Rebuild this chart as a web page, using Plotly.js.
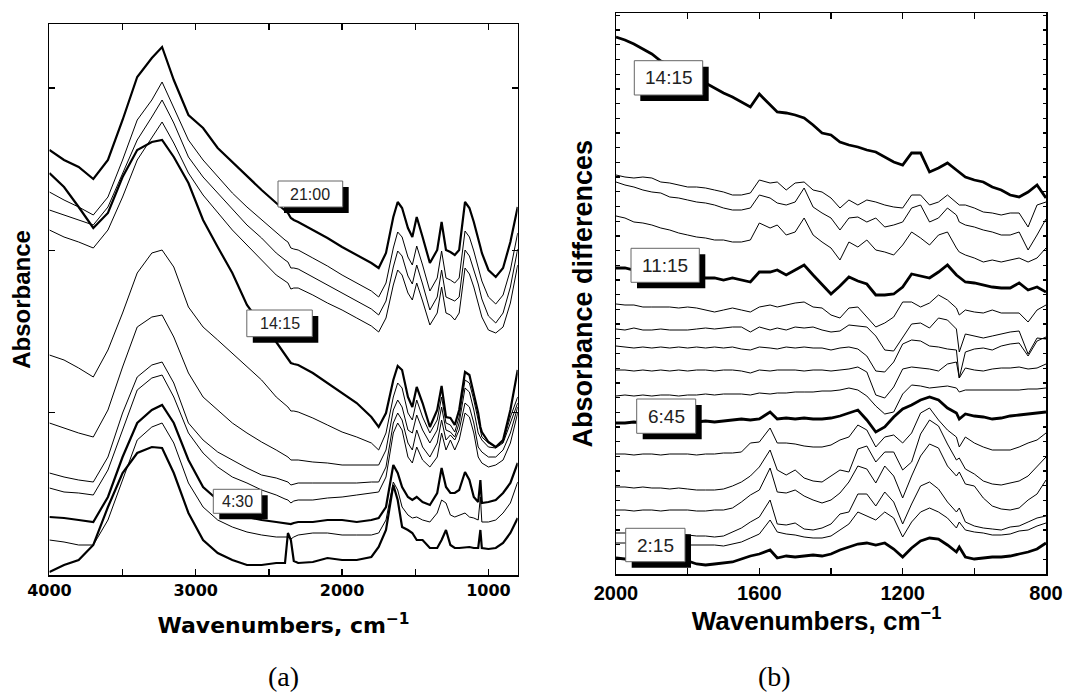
<!DOCTYPE html>
<html><head><meta charset="utf-8">
<script src="https://cdn.plot.ly/plotly-3.0.1.min.js"></script>
<style>html,body{margin:0;padding:0;background:#fff;}#chart{width:1065px;height:696px;}</style>
</head><body><div id="chart"></div>
<script>
// ---------- Panel (a): absorbance spectra ----------
const wnA = [4000,3900,3800,3700,3600,3500,3400,3300,3230,3150,
 3050,2950,2850,2750,2650,2550,2450,2390,2370,2350,2330,2300,
 2200,2100,2000,1900,1800,1750,1700,1650,1620,1590,
 1550,1520,1490,1450,1400,1350,1320,1290,1260,1230,
 1200,1160,1130,1100,1070,1055,1045,1000,950,900,
 850,800];
const absA_2100 = [4.25,4.15,4.08,3.96,4.15,4.55,4.98,5.17,5.28,4.95,
 4.60,4.47,4.27,4.13,3.98,3.85,3.72,3.64,3.62,3.57,3.55,3.53,
 3.45,3.37,3.28,3.20,3.12,3.07,3.22,3.58,3.73,3.67,
 3.47,3.38,3.58,3.38,3.12,3.25,3.53,3.25,3.23,3.20,
 3.25,3.73,3.67,3.53,3.38,3.28,3.22,3.05,2.98,3.07,
 3.33,3.68];
const absA_s2 = [3.83,3.75,3.68,3.60,3.78,4.15,4.55,4.75,4.93,4.68,
 4.35,4.15,3.98,3.82,3.68,3.55,3.42,3.35,3.33,3.27,3.26,3.25,
 3.17,3.09,3.00,2.92,2.84,2.78,2.92,3.27,3.43,3.38,
 3.18,3.10,3.29,3.10,2.84,2.97,3.24,2.97,2.95,2.92,
 2.97,3.44,3.38,3.24,3.09,3.00,2.94,2.78,2.71,2.80,
 3.05,3.42];
const absA_s3 = [3.65,3.60,3.55,3.50,3.68,4.02,4.35,4.58,4.75,4.52,
 4.18,3.98,3.82,3.65,3.50,3.37,3.22,3.15,3.13,3.07,3.07,3.06,
 2.98,2.90,2.82,2.74,2.66,2.60,2.74,3.08,3.24,3.19,
 2.99,2.91,3.10,2.91,2.65,2.78,3.05,2.78,2.76,2.74,
 2.78,3.25,3.19,3.06,2.91,2.82,2.76,2.59,2.52,2.62,
 2.88,3.26];
const absA_s4 = [3.45,3.38,3.33,3.27,3.45,3.78,4.15,4.38,4.53,4.32,
 4.02,3.80,3.62,3.45,3.30,3.15,3.00,2.94,2.92,2.86,2.87,2.87,
 2.80,2.72,2.65,2.57,2.49,2.43,2.57,2.90,3.05,3.00,
 2.82,2.75,2.92,2.74,2.50,2.62,2.88,2.62,2.60,2.55,
 2.62,3.07,3.01,2.88,2.73,2.64,2.58,2.45,2.42,2.48,
 2.72,3.10];
const absA_1415 = [4.02,3.88,3.68,3.47,3.62,3.98,4.25,4.33,4.35,4.18,
 3.92,3.55,3.28,3.02,2.70,2.50,2.33,2.20,2.17,2.12,2.11,2.10,
 2.02,1.92,1.82,1.72,1.58,1.48,1.62,1.95,2.09,2.05,
 1.78,1.68,1.88,1.72,1.48,1.65,1.89,1.58,1.57,1.50,
 1.65,2.03,2.00,1.82,1.62,1.48,1.43,1.33,1.28,1.35,
 1.65,2.05];
const absA_s6 = [2.20,2.15,2.07,1.98,2.25,2.62,3.02,3.22,3.25,3.08,
 2.68,2.48,2.35,2.22,2.08,1.95,1.78,1.70,1.68,1.64,1.64,1.63,
 1.57,1.50,1.43,1.38,1.32,1.25,1.42,1.78,1.92,1.87,
 1.62,1.55,1.75,1.58,1.42,1.55,1.78,1.52,1.50,1.43,
 1.58,1.95,1.92,1.75,1.55,1.42,1.38,1.32,1.28,1.33,
 1.58,1.78];
const absA_s7 = [1.52,1.47,1.42,1.38,1.65,2.08,2.48,2.58,2.60,2.38,
 2.02,1.78,1.65,1.52,1.42,1.33,1.25,1.20,1.18,1.15,1.15,1.15,
 1.13,1.12,1.10,1.10,1.10,1.10,1.25,1.65,1.75,1.68,
 1.45,1.42,1.60,1.45,1.32,1.45,1.68,1.45,1.43,1.38,
 1.52,1.87,1.83,1.65,1.42,1.38,1.35,1.28,1.27,1.32,
 1.52,1.72];
const absA_s8 = [1.02,0.98,0.95,0.93,1.18,1.62,1.98,2.10,2.13,1.92,
 1.52,1.35,1.23,1.15,1.07,1.00,0.97,0.94,0.93,0.90,0.91,0.92,
 0.92,0.92,0.92,0.92,0.93,0.93,1.08,1.52,1.62,1.55,
 1.32,1.25,1.45,1.28,1.18,1.32,1.55,1.35,1.40,1.35,
 1.45,1.72,1.68,1.52,1.28,1.25,1.23,1.18,1.18,1.25,
 1.42,1.68];
const absA_s9 = [0.87,0.83,0.82,0.80,1.05,1.45,1.85,1.97,2.00,1.78,
 1.42,1.22,1.08,0.98,0.92,0.85,0.80,0.76,0.75,0.72,0.74,0.75,
 0.75,0.77,0.78,0.80,0.82,0.83,0.98,1.42,1.52,1.45,
 1.18,1.12,1.28,1.15,1.08,1.18,1.42,1.25,1.35,1.25,
 1.35,1.62,1.58,1.42,1.18,1.15,1.12,1.08,1.10,1.15,
 1.32,1.62];
const absA_0430 = [0.58,0.57,0.55,0.53,0.78,1.18,1.52,1.65,1.70,1.52,
 1.15,0.88,0.75,0.65,0.58,0.55,0.53,0.52,0.52,0.51,0.52,0.53,
 0.53,0.55,0.55,0.53,0.55,0.57,0.68,1.10,1.02,0.88,
 0.78,0.75,0.78,0.73,0.70,0.82,1.07,0.88,0.82,0.82,
 0.85,1.03,0.95,0.78,0.73,0.95,0.72,0.73,0.75,0.82,
 0.92,1.12];
const absA_s11 = [0.35,0.33,0.30,0.30,0.55,0.95,1.35,1.48,1.52,1.32,
 0.92,0.68,0.55,0.48,0.43,0.40,0.38,0.38,0.38,0.36,0.38,0.40,
 0.42,0.42,0.40,0.40,0.40,0.42,0.55,0.93,0.85,0.68,
 0.60,0.57,0.58,0.55,0.53,0.62,0.75,0.72,0.60,0.58,
 0.60,0.62,0.58,0.57,0.55,0.78,0.53,0.53,0.55,0.62,
 0.72,0.93];
const absA_s12 = [0.03,0.10,0.15,0.30,0.68,1.02,1.22,1.28,1.27,1.02,
 0.62,0.35,0.22,0.15,0.10,0.10,0.12,0.12,0.42,0.35,0.14,0.12,
 0.13,0.17,0.15,0.15,0.18,0.28,0.45,0.90,0.75,0.48,
 0.45,0.42,0.35,0.35,0.27,0.27,0.35,0.45,0.30,0.27,
 0.27,0.28,0.28,0.27,0.27,0.45,0.27,0.26,0.27,0.32,
 0.42,0.57];

// ---------- Panel (b): absorbance differences ----------
const wnB = [2000,1975,1950,1925,1900,1875,1850,1825,1800,1775,
 1750,1725,1700,1675,1650,1625,1600,1570,1550,1525,
 1500,1475,1450,1425,1400,1375,1350,1325,1300,1275,
 1250,1225,1200,1175,1150,1125,1100,1075,1050,1042,
 1025,1000,975,950,925,900,875,850,825,800];
const difB_1415 = [5.37,5.34,5.30,5.25,5.20,5.13,5.09,5.04,4.99,4.94,
 4.91,4.86,4.81,4.77,4.72,4.67,4.80,4.69,4.62,4.61,
 4.59,4.56,4.49,4.41,4.39,4.32,4.29,4.27,4.24,4.22,
 4.17,4.12,4.09,4.21,4.21,4.02,4.06,4.11,4.04,4.02,
 3.97,3.94,3.92,3.87,3.84,3.79,3.77,3.82,3.89,3.76];
const difB_s2 = [3.99,3.97,3.96,3.97,3.96,3.92,3.91,3.89,3.87,3.87,
 3.86,3.84,3.82,3.79,3.79,3.81,3.94,3.91,3.92,3.84,
 3.91,3.92,3.84,3.82,3.76,3.66,3.74,3.69,3.74,3.72,
 3.69,3.67,3.66,3.79,3.79,3.69,3.72,3.79,3.72,3.69,
 3.69,3.66,3.62,3.61,3.59,3.61,3.61,3.47,3.69,3.72];
const difB_s3 = [3.92,3.89,3.87,3.84,3.82,3.81,3.77,3.76,3.74,3.72,
 3.71,3.69,3.66,3.64,3.64,3.66,3.79,3.76,3.71,3.69,
 3.72,3.86,3.67,3.61,3.56,3.44,3.56,3.57,3.52,3.56,
 3.47,3.49,3.52,3.66,3.69,3.52,3.56,3.66,3.59,3.52,
 3.49,3.47,3.44,3.42,3.39,3.39,3.42,3.24,3.39,3.55];
const difB_s4 = [3.58,3.56,3.52,3.51,3.49,3.46,3.44,3.41,3.39,3.37,
 3.36,3.34,3.34,3.32,3.32,3.34,3.51,3.46,3.49,3.39,
 3.42,3.56,3.39,3.32,3.26,3.14,3.32,3.27,3.34,3.24,
 3.22,3.19,3.29,3.42,3.36,3.29,3.39,3.42,3.26,3.22,
 3.19,3.16,3.12,3.14,3.12,3.14,3.16,3.12,3.16,3.26];
const difB_1115 = [3.06,3.06,3.04,3.03,3.02,3.01,3.00,2.99,2.98,2.97,
 2.96,2.96,2.94,2.96,2.94,2.92,3.02,3.02,3.04,2.99,
 3.04,3.09,2.99,2.90,2.80,2.88,2.97,2.93,2.90,2.79,
 2.79,2.80,2.87,3.00,2.98,2.96,3.02,3.09,2.99,2.97,
 2.92,2.91,2.89,2.87,2.86,2.86,2.91,2.84,2.87,2.82];
const difB_s6 = [2.70,2.69,2.69,2.67,2.67,2.67,2.67,2.66,2.67,2.66,
 2.64,2.62,2.64,2.66,2.64,2.62,2.67,2.69,2.67,2.69,
 2.71,2.72,2.67,2.66,2.59,2.56,2.66,2.67,2.57,2.47,
 2.51,2.57,2.72,2.72,2.67,2.71,2.79,2.74,2.66,2.59,
 2.64,2.62,2.61,2.64,2.61,2.61,2.61,2.52,2.64,2.69];
const difB_s7 = [2.45,2.44,2.46,2.44,2.44,2.45,2.44,2.44,2.44,2.45,
 2.46,2.45,2.46,2.47,2.47,2.42,2.47,2.44,2.46,2.44,
 2.47,2.46,2.47,2.44,2.42,2.43,2.49,2.48,2.47,2.38,
 2.24,2.23,2.36,2.50,2.51,2.46,2.56,2.54,2.45,2.22,
 2.40,2.38,2.36,2.38,2.40,2.42,2.43,2.20,2.36,2.35];
const difB_s8 = [2.28,2.27,2.26,2.27,2.26,2.27,2.26,2.27,2.26,2.27,
 2.26,2.27,2.26,2.27,2.25,2.24,2.27,2.26,2.25,2.27,
 2.26,2.27,2.26,2.26,2.24,2.26,2.27,2.25,2.18,2.03,
 2.02,2.12,2.30,2.34,2.33,2.28,2.27,2.25,2.24,1.96,
 2.22,2.25,2.26,2.24,2.28,2.30,2.31,2.18,2.33,2.37];
const difB_s9 = [2.04,2.04,2.03,2.04,2.03,2.04,2.03,2.04,2.03,2.04,
 2.04,2.03,2.04,2.04,2.03,2.01,2.04,2.03,2.04,2.04,
 2.04,2.03,2.04,2.04,2.03,2.04,2.05,2.07,2.02,1.79,
 1.76,1.87,2.05,2.07,2.06,2.05,2.03,2.10,2.12,1.96,
 2.06,2.04,2.03,2.05,2.06,2.06,2.07,2.05,2.06,2.10];
const difB_s10 = [1.78,1.79,1.78,1.79,1.78,1.79,1.79,1.78,1.79,1.79,
 1.80,1.79,1.80,1.80,1.80,1.79,1.81,1.80,1.81,1.81,
 1.82,1.82,1.82,1.83,1.83,1.84,1.86,1.84,1.78,1.68,
 1.60,1.62,1.80,1.89,1.88,1.86,1.87,1.88,1.86,1.82,
 1.84,1.84,1.84,1.84,1.84,1.84,1.84,1.85,1.85,1.86];
const difB_0645 = [1.51,1.51,1.52,1.51,1.52,1.51,1.52,1.52,1.51,1.52,
 1.53,1.52,1.53,1.54,1.55,1.54,1.55,1.62,1.55,1.56,
 1.55,1.56,1.55,1.55,1.56,1.58,1.61,1.64,1.54,1.42,
 1.47,1.57,1.65,1.69,1.74,1.77,1.74,1.66,1.61,1.55,
 1.60,1.58,1.57,1.55,1.56,1.58,1.59,1.60,1.61,1.62];
const difB_s12 = [1.20,1.20,1.19,1.20,1.20,1.19,1.20,1.20,1.20,1.19,
 1.20,1.20,1.21,1.21,1.22,1.31,1.32,1.46,1.31,1.31,
 1.30,1.28,1.27,1.27,1.29,1.34,1.37,1.49,1.44,1.27,
 1.37,1.39,1.31,1.41,1.61,1.66,1.54,1.44,1.37,1.27,
 1.37,1.31,1.27,1.24,1.24,1.24,1.27,1.31,1.34,1.41];
const difB_s13 = [0.87,0.87,0.86,0.87,0.86,0.86,0.85,0.86,0.85,0.84,
 0.84,0.84,0.85,0.88,0.92,0.98,1.07,1.24,1.04,0.99,
 1.04,0.96,0.93,0.92,0.98,1.04,1.02,1.25,1.28,1.12,
 1.22,1.22,1.04,1.12,1.40,1.54,1.48,1.30,1.14,1.16,
 1.05,1.00,0.93,0.90,0.89,0.91,0.93,0.98,1.07,1.17];
const difB_s14 = [0.64,0.64,0.63,0.64,0.64,0.63,0.64,0.64,0.64,0.63,
 0.63,0.64,0.64,0.66,0.72,0.79,0.84,1.06,0.82,0.81,
 0.84,0.78,0.74,0.71,0.74,0.81,0.92,1.08,1.05,0.91,
 1.08,0.98,0.76,0.98,1.18,1.30,1.26,1.08,0.98,1.02,
 0.90,0.88,0.76,0.68,0.65,0.64,0.66,0.74,0.80,0.94];
const difB_s15 = [0.41,0.41,0.40,0.41,0.40,0.40,0.39,0.40,0.39,0.38,
 0.38,0.37,0.38,0.42,0.46,0.52,0.57,0.74,0.50,0.49,
 0.51,0.45,0.44,0.46,0.50,0.60,0.62,0.80,0.80,0.68,
 0.82,0.72,0.50,0.70,0.88,0.92,0.85,0.72,0.62,0.66,
 0.52,0.48,0.46,0.45,0.44,0.47,0.48,0.52,0.56,0.58];
const difB_s16 = [0.31,0.31,0.30,0.31,0.30,0.30,0.30,0.30,0.29,0.29,
 0.29,0.29,0.28,0.30,0.32,0.36,0.40,0.54,0.42,0.40,
 0.39,0.37,0.36,0.36,0.38,0.44,0.50,0.62,0.58,0.54,
 0.62,0.56,0.37,0.52,0.62,0.66,0.62,0.56,0.46,0.52,
 0.44,0.42,0.41,0.39,0.39,0.40,0.43,0.44,0.48,0.51];
const difB_0215 = [0.16,0.15,0.16,0.15,0.14,0.13,0.12,0.12,0.13,0.10,
 0.09,0.10,0.11,0.12,0.15,0.18,0.20,0.24,0.16,0.18,
 0.17,0.18,0.19,0.18,0.20,0.24,0.27,0.30,0.31,0.29,
 0.31,0.25,0.17,0.26,0.33,0.36,0.35,0.29,0.22,0.27,
 0.17,0.15,0.16,0.17,0.17,0.18,0.20,0.22,0.25,0.31];

const ticksA = [4000,3000,2000,1000];
const ticksB = [2000,1600,1200,800];

// ---------- build ----------
const W = 1065, H = 696;
const thickA = 2.2, thinA = 1, thickB = 2.8, thinB = 1;
const seriesA = [
  ['21:00',absA_2100,thickA],['a2',absA_s2,thinA],['a3',absA_s3,thinA],['a4',absA_s4,thinA],
  ['14:15',absA_1415,thickA],['a6',absA_s6,thinA],['a7',absA_s7,thinA],['a8',absA_s8,thinA],
  ['a9',absA_s9,thinA],['4:30',absA_0430,thickA],['a11',absA_s11,thinA],['a12',absA_s12,thickA]
];
const seriesB = [
  ['14:15',difB_1415,thickB],['b2',difB_s2,thinB],['b3',difB_s3,thinB],['b4',difB_s4,thinB],
  ['11:15',difB_1115,thickB],['b6',difB_s6,thinB],['b7',difB_s7,thinB],['b8',difB_s8,thinB],
  ['b9',difB_s9,thinB],['b10',difB_s10,thinB],['6:45',difB_0645,thickB],['b12',difB_s12,thinB],
  ['b13',difB_s13,thinB],['b14',difB_s14,thinB],['b15',difB_s15,thinB],['b16',difB_s16,thinB],
  ['2:15',difB_0215,thickB]
];
const traces = [];
seriesA.forEach(s => traces.push({type:'scatter',mode:'lines',name:s[0],x:wnA,y:s[1],xaxis:'x',yaxis:'y',
  line:{color:'#000',width:s[2]},hoverinfo:'skip'}));
seriesB.forEach(s => traces.push({type:'scatter',mode:'lines',name:s[0],x:wnB,y:s[1],xaxis:'x2',yaxis:'y2',
  line:{color:'#000',width:s[2]},hoverinfo:'skip'}));

const X = v => v / W, Y = v => 1 - v / H;
const axBase = {showline:true,linecolor:'#000',linewidth:1.5,mirror:'ticks',ticks:'inside',
  tickcolor:'#000',tickwidth:1.3,showgrid:false,zeroline:false,fixedrange:true,automargin:false};

// label boxes [text, x0, y0, x1, y1, fontSize]
const boxes = [
  ['21:00',278,181,342.7,207,16],
  ['14:15',246.8,310,312.3,336.7,16],
  ['4:30',213.3,489.3,261.7,513.3,16],
  ['14:15',634.3,60.7,702.7,95,19],
  ['11:15',631,248.3,699.3,282.3,19],
  ['6:45',636.7,399,695.7,433.3,19],
  ['2:15',625.7,528.3,685,561.7,19]
];
const shapes = [], annotations = [];
boxes.forEach(b => {
  const [t,x0,y0,x1,y1,fs] = b, off = 6;
  shapes.push({type:'rect',xref:'paper',yref:'paper',x0:X(x0+off),x1:X(x1+off),y0:Y(y0+off),y1:Y(y1+off),
    fillcolor:'#000',line:{width:0},layer:'above'});
  shapes.push({type:'rect',xref:'paper',yref:'paper',x0:X(x0),x1:X(x1),y0:Y(y0),y1:Y(y1),
    fillcolor:'#fff',line:{color:'#666',width:1},layer:'above'});
  annotations.push({text:t,xref:'paper',yref:'paper',x:X((x0+x1)/2),y:Y((y0+y1)/2),xanchor:'center',yanchor:'middle',
    showarrow:false,font:{family:'Liberation Sans, Arial, sans-serif',size:fs,color:'#222'}});
});
const boldA = {family:'DejaVu Sans, sans-serif',color:'#000',weight:'bold'};
const boldB = {family:'Liberation Sans, Arial, sans-serif',color:'#000',weight:'bold'};
annotations.push({text:'(a)',xref:'paper',yref:'paper',x:X(283),y:Y(676),xanchor:'center',yanchor:'middle',
  showarrow:false,font:{family:'Liberation Serif, Times New Roman, serif',size:28,color:'#000'}});
annotations.push({text:'(b)',xref:'paper',yref:'paper',x:X(774),y:Y(676),xanchor:'center',yanchor:'middle',
  showarrow:false,font:{family:'Liberation Serif, Times New Roman, serif',size:28,color:'#000'}});

const layout = {
  width:W,height:H,margin:{l:0,r:0,t:0,b:0},paper_bgcolor:'#fff',plot_bgcolor:'#fff',showlegend:false,
  xaxis:Object.assign({},axBase,{domain:[X(49.4),X(517.7)],anchor:'y',range:[4000,800],tickmode:'array',
    tickvals:ticksA,ticklen:6,tickfont:Object.assign({size:16},boldA),
    minor:{dtick:500,tick0:0,ticks:'inside',ticklen:6,tickwidth:1.3,tickcolor:'#000',showgrid:false},
    title:{text:'Wavenumbers, cm<sup>\u22121</sup>',font:Object.assign({size:22},boldA),standoff:19}}),
  yaxis:Object.assign({},axBase,{domain:[Y(575),Y(24)],anchor:'x',range:[0,5.51],tickmode:'array',
    tickvals:[0,1.623,3.247,4.87],showticklabels:false,ticklen:6,
    title:{text:'Absorbance',font:Object.assign({size:24},boldB),standoff:10}}),
  xaxis2:Object.assign({},axBase,{domain:[X(616),X(1046)],anchor:'y2',range:[2000,800],tickmode:'array',
    tickvals:ticksB,ticklen:6,tickfont:Object.assign({size:20},boldB),
    minor:{dtick:200,tick0:0,ticks:'inside',ticklen:6,tickwidth:1.3,tickcolor:'#000',showgrid:false},
    title:{text:'Wavenumbers, cm<sup>\u22121</sup>&nbsp;&nbsp;&nbsp;&nbsp;',font:Object.assign({size:26},boldB),standoff:6}}),
  yaxis2:Object.assign({},axBase,{domain:[Y(574),Y(13.3)],anchor:'x2',range:[0,5.607],tick0:0,dtick:0.147,
    showticklabels:false,ticklen:3.5,
    title:{text:'Absorbance differences',font:Object.assign({size:27},boldB),standoff:14}}),
  shapes:shapes,annotations:annotations
};
Plotly.newPlot('chart',traces,layout,{staticPlot:true,displayModeBar:false});
</script></body></html>
